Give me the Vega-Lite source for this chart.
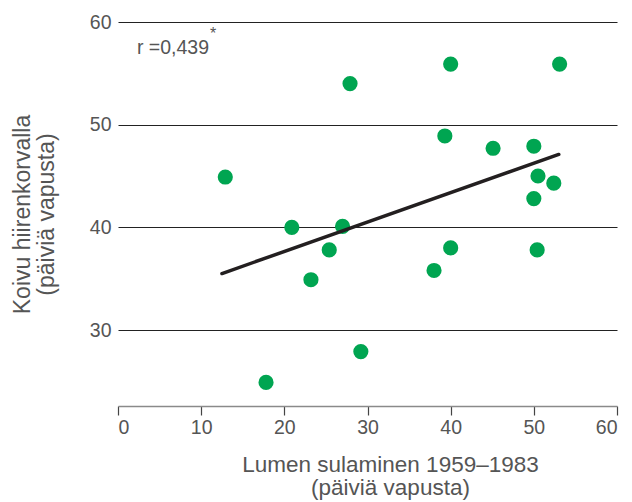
{
  "$schema": "https://vega.github.io/schema/vega-lite/v6.json",
  "width": 499,
  "height": 384,
  "autosize": {"type": "none"},
  "padding": {"left": 118, "top": 22, "right": 15, "bottom": 96},
  "background": "white",
  "config": {
    "view": {"stroke": null},
    "font": "Liberation Sans",
    "axis": {"labelFont": "Liberation Sans", "titleFont": "Liberation Sans", "titleFontWeight": "normal"}
  },
  "datasets": {
    "points": [
      {"snow": 12.9, "birch": 44.9},
      {"snow": 17.8, "birch": 24.9},
      {"snow": 20.9, "birch": 40.0},
      {"snow": 23.2, "birch": 34.9},
      {"snow": 25.4, "birch": 37.8},
      {"snow": 27.0, "birch": 40.1},
      {"snow": 27.9, "birch": 54.0},
      {"snow": 29.2, "birch": 27.9},
      {"snow": 38.0, "birch": 35.8},
      {"snow": 39.3, "birch": 48.9},
      {"snow": 40.0, "birch": 55.9},
      {"snow": 40.0, "birch": 38.0},
      {"snow": 45.1, "birch": 47.7},
      {"snow": 50.0, "birch": 47.9},
      {"snow": 50.5, "birch": 45.0},
      {"snow": 50.0, "birch": 42.8},
      {"snow": 52.4, "birch": 44.3},
      {"snow": 50.4, "birch": 37.8},
      {"snow": 53.1, "birch": 55.9}
    ],
    "fit": [
      {"snow": 12.5, "birch": 35.5},
      {"snow": 53.0, "birch": 47.1}
    ],
    "notes": [
      {"snow": 2.28, "birch": 56.88, "label": "r =0,439", "size": 19.5},
      {"snow": 11.05, "birch": 58.34, "label": "*", "size": 16}
    ]
  },
  "encoding": {
    "x": {
      "field": "snow", "type": "quantitative",
      "scale": {"domain": [0, 60], "nice": false},
      "axis": {
        "values": [0, 10, 20, 30, 40, 50, 60],
        "grid": false,
        "domainColor": "#8a8a8a", "domainWidth": 1.5,
        "tickColor": "#444444", "tickSize": 9, "tickWidth": 1.2,
        "labelFontSize": 19.5, "labelColor": "#555555", "labelPadding": 3,
        "title": ["Lumen sulaminen 1959–1983", "(päiviä vapusta)"],
        "titleFontSize": 22.5, "titleColor": "#555555", "titleLineHeight": 23,
        "titlePadding": 17, "titleX": 272
      }
    },
    "y": {
      "field": "birch", "type": "quantitative",
      "scale": {"domain": [22.6, 60], "nice": false, "zero": false},
      "axis": {
        "values": [30, 40, 50, 60],
        "domain": false, "ticks": false,
        "grid": true, "gridColor": "#222222", "gridWidth": 1.2,
        "labelFontSize": 19.5, "labelColor": "#555555", "labelPadding": 7,
        "title": ["Koivu hiirenkorvalla", "(päiviä vapusta)"],
        "titleFontSize": 23, "titleColor": "#555555", "titleLineHeight": 24,
        "titlePadding": 31
      }
    }
  },
  "layer": [
    {
      "data": {"name": "points"},
      "mark": {"type": "circle", "size": 230, "color": "#00a551", "opacity": 1}
    },
    {
      "data": {"name": "fit"},
      "mark": {"type": "line", "color": "#231f20", "strokeWidth": 3.5, "strokeCap": "round"},
      "encoding": {}
    },
    {
      "data": {"name": "notes"},
      "mark": {"type": "text", "align": "left", "baseline": "alphabetic", "color": "#555555", "font": "Liberation Sans"},
      "encoding": {
        "text": {"field": "label"},
        "size": {"field": "size", "type": "quantitative", "scale": null}
      }
    }
  ]
}
